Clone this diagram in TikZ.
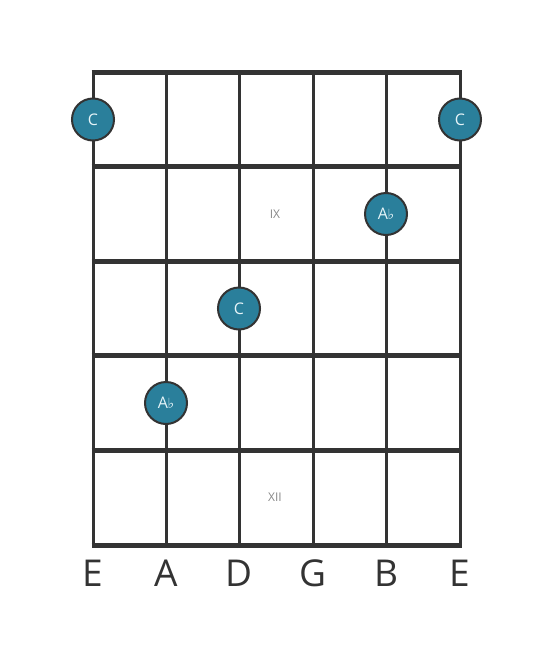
\documentclass[tikz,border=0pt]{standalone}
\usepackage{fontspec}
\setmainfont{Open Sans}
\newfontfamily\symfont{DejaVu Sans}
\definecolor{fret}{HTML}{333333}
\definecolor{dotfill}{HTML}{2A7F9B}
\definecolor{dottext}{HTML}{E6F4F8}
\definecolor{numgray}{HTML}{888888}
\tikzset{
  fretline/.style={draw=fret, line width=5pt},
  stringline/.style={draw=fret, line width=3pt},
  notedot/.style={circle, draw=fret, line width=2pt, fill=dotfill, minimum size=42pt, inner sep=0pt, text=dottext, font=\fontsize{16}{16}\selectfont},
  strlabel/.style={font=\fontsize{37}{37}\selectfont, text=fret},
  posmark/.style={font=\fontsize{12}{12}\selectfont, text=numgray}
}
\begin{document}
\begin{tikzpicture}[x=1pt,y=-1pt]
\useasboundingbox (0,0) rectangle (553,656);
% strings
\foreach \x [count=\i] in {93,166,239,313,386,460} {
  \coordinate (st\i) at (\x,72);
  \coordinate (sb\i) at (\x,545);
  \draw[stringline] (st\i) -- (sb\i);
}
% frets
\foreach \y [count=\j] in {72,166.6,261.2,355.8,450.4,545} {
  \coordinate (fl\j) at (91.5,\y);
  \coordinate (fr\j) at (461.5,\y);
  \draw[fretline] (fl\j) -- (fr\j);
}
% position markers
\node[posmark] (ix) at (275,214) {IX};
\node[posmark] (xii) at (275,497.5) {XII};
% notes
\node[notedot] (n1) at (93,119.5) {C};
\node[notedot] (n2) at (460,119.5) {C};
\node[notedot] (n3) at (386,214) {A\kern-0.5pt{\symfont\fontsize{14}{14}\selectfont ♭}};
\node[notedot] (n4) at (239,308.5) {C};
\node[notedot] (n5) at (166,403) {A\kern-0.5pt{\symfont\fontsize{14}{14}\selectfont ♭}};
% string labels
\foreach \x/\t [count=\k] in {93/E,166/A,239/D,313/G,386/B,460/E} {
  \node[strlabel] (lab\k) at (\x,573) {\t};
}
\end{tikzpicture}
\end{document}
